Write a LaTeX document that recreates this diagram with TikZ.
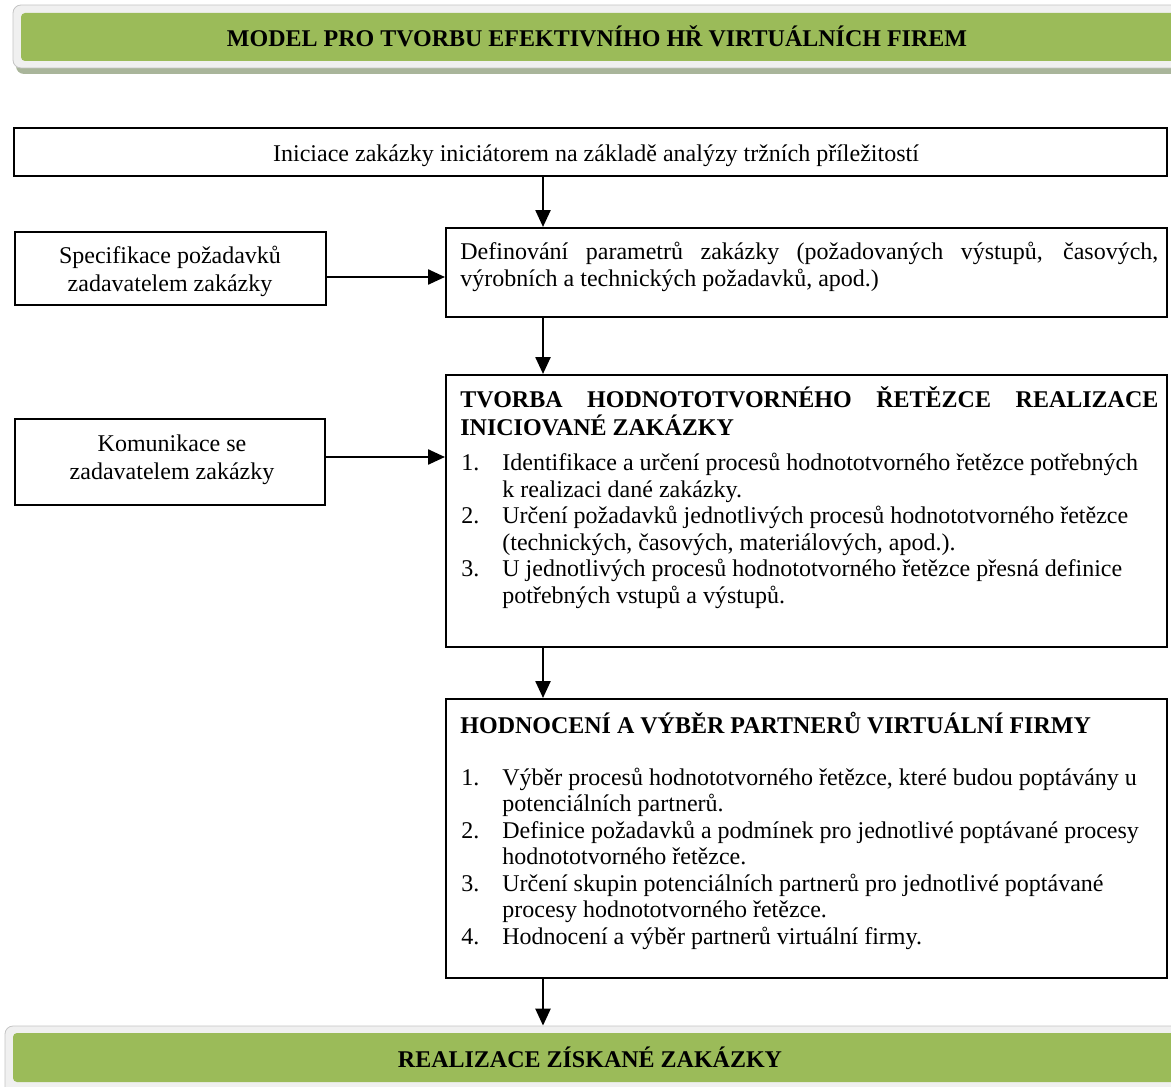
\documentclass[tikz,border=0pt]{standalone}
\usepackage{fontspec}
\setmainfont{Liberation Serif}
\usetikzlibrary{arrows.meta,fit}
\definecolor{bannergreen}{HTML}{9BBB59}
\definecolor{bannergray}{HTML}{F0F0F0}
\definecolor{bannerrim}{HTML}{C4C4C4}
\definecolor{bannershadow}{HTML}{A9B59A}
\newcommand\txtsize{\fontsize{12pt}{13.25pt}\selectfont}

\begin{document}
\begin{tikzpicture}[x=0.5pt,y=-0.5pt,
  frame/.style={draw, line width=1pt, inner sep=0pt},
  txt/.style={inner sep=0pt, anchor=base west, font=\txtsize},
  ctxt/.style={inner sep=0pt, anchor=base, font=\txtsize},
  htxt/.style={inner sep=0pt, anchor=base west, font=\txtsize\bfseries},
  arr/.style={line width=1.2pt, -{Triangle[length=8.5pt,width=7.5pt]}},
  rim/.style={fill=bannergray, draw=bannerrim, line width=0.4pt, rounded corners=4pt, inner sep=0pt},
  band/.style={fill=bannergreen, rounded corners=2pt, inner sep=0pt},
  shade/.style={fill=bannershadow, rounded corners=4pt, inner sep=0pt},
]
\useasboundingbox (0,0) rectangle (1171,1086);
\clip (0,0) rectangle (1171,1086);

% title banner
\node[shade, fit={(16,12) (1195,74)}] (titleshadow) {};
\node[rim, fit={(13,5) (1195,68)}] (titlerim) {};
\node[band, fit={(21,13) (1195,61)}] (titleband) {};
\node[inner sep=0pt, anchor=base, font=\txtsize\bfseries] (title) at (597,47)
  {MODEL PRO TVORBU EFEKTIVNÍHO HŘ VIRTUÁLNÍCH FIREM};

% bottom banner
\node[rim, fit={(5,1026) (1195,1100)}] (endrim) {};
\node[band, fit={(13,1033) (1195,1082)}] (endband) {};
\node[inner sep=0pt, anchor=base, font=\txtsize\bfseries] (endtitle) at (590,1067)
  {REALIZACE ZÍSKANÉ ZAKÁZKY};

% frames
\node[frame, fit={(14,128) (1167,176)}] (start) {};
\node[frame, fit={(15,232) (326,305)}] (spec) {};
\node[frame, fit={(446,228) (1167,317)}] (def) {};
\node[frame, fit={(15,419) (325,505)}] (komm) {};
\node[frame, fit={(446,375) (1167,647)}] (chain) {};
\node[frame, fit={(446,699) (1167,978)}] (eval) {};

% texts of the left column and the first frame
\node[ctxt] (startt) at (596,162) {Iniciace zakázky iniciátorem na základě analýzy tržních příležitostí};
\node[ctxt] (spec1) at (170,263) {Specifikace požadavků};
\node[ctxt] (spec2) at (170,291) {zadavatelem zakázky};
\node[ctxt] (komm1) at (172,451) {Komunikace se};
\node[ctxt] (komm2) at (172,479) {zadavatelem zakázky};

% parameters of the order
\node[txt] (def1) at (460,259) {\makebox[349pt][s]{Definování parametrů zakázky (požadovaných výstupů, časových,}};
\node[txt] (def2) at (460,286) {výrobních a technických požadavků, apod.)};

% value chain
\node[htxt] (chainh1) at (460,407) {\makebox[349pt][s]{TVORBA HODNOTOTVORNÉHO ŘETĚZCE REALIZACE}};
\node[htxt] (chainh2) at (460,435) {INICIOVANÉ ZAKÁZKY};
\node[txt] (c1n) at (461,470) {1.};
\node[txt] (c1a) at (502,470) {Identifikace a určení procesů hodnototvorného řetězce potřebných};
\node[txt] (c1b) at (502,497) {k realizaci dané zakázky.};
\node[txt] (c2n) at (461,523) {2.};
\node[txt] (c2a) at (502,523) {Určení požadavků jednotlivých procesů hodnototvorného řetězce};
\node[txt] (c2b) at (502,550) {(technických, časových, materiálových, apod.).};
\node[txt] (c3n) at (461,576) {3.};
\node[txt] (c3a) at (502,576) {U jednotlivých procesů hodnototvorného řetězce přesná definice};
\node[txt] (c3b) at (502,603) {potřebných vstupů a výstupů.};

% partner selection
\node[htxt] (evalh) at (460,733) {HODNOCENÍ A VÝBĚR PARTNERŮ VIRTUÁLNÍ FIRMY};
\node[txt] (e1n) at (461,785) {1.};
\node[txt] (e1a) at (502,785) {Výběr procesů hodnototvorného řetězce, které budou poptávány u};
\node[txt] (e1b) at (502,811.5) {potenciálních partnerů.};
\node[txt] (e2n) at (461,838) {2.};
\node[txt] (e2a) at (502,838) {Definice požadavků a podmínek pro jednotlivé poptávané procesy};
\node[txt] (e2b) at (502,864.5) {hodnototvorného řetězce.};
\node[txt] (e3n) at (461,891) {3.};
\node[txt] (e3a) at (502,891) {Určení skupin potenciálních partnerů pro jednotlivé poptávané};
\node[txt] (e3b) at (502,917.5) {procesy hodnototvorného řetězce.};
\node[txt] (e4n) at (461,944) {4.};
\node[txt] (e4a) at (502,944) {Hodnocení a výběr partnerů virtuální firmy.};

% connectors
\coordinate (ax) at (543,0);
\coordinate (ay1) at (0,277);
\coordinate (ay2) at (0,457);
\draw[arr] (start.south -| ax) -- (def.north -| ax);
\draw[arr] (def.south -| ax) -- (chain.north -| ax);
\draw[arr] (chain.south -| ax) -- (eval.north -| ax);
\draw[arr] (eval.south -| ax) -- (endrim.north -| ax);
\draw[arr] (spec.east |- ay1) -- (def.west |- ay1);
\draw[arr] (komm.east |- ay2) -- (chain.west |- ay2);
\end{tikzpicture}
\end{document}
